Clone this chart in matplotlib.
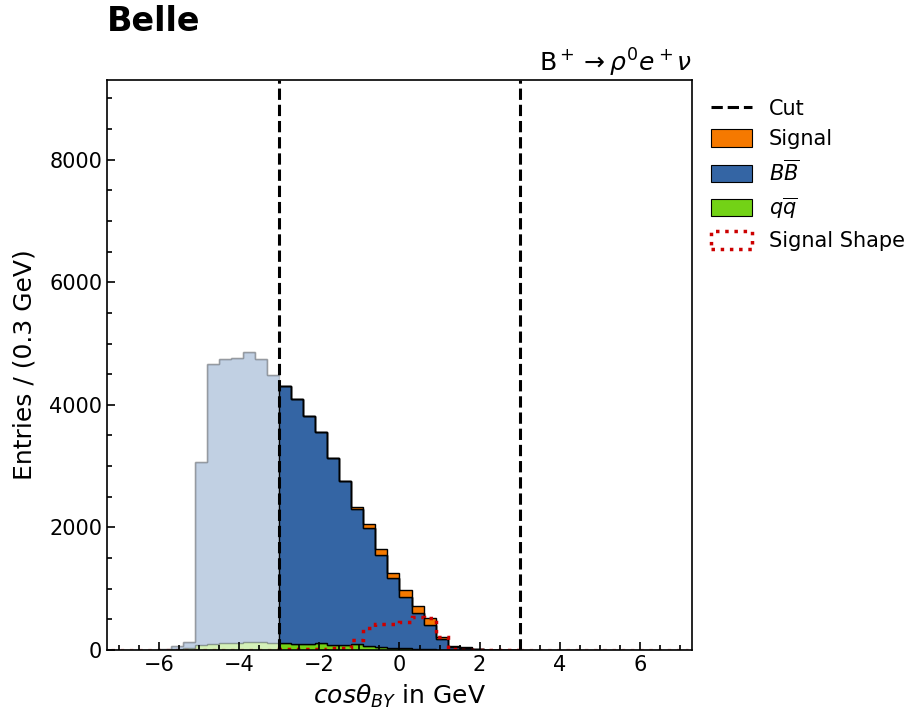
import numpy as np
import matplotlib
matplotlib.use("Agg")
import matplotlib.pyplot as plt
from matplotlib.patches import Patch
from matplotlib.ticker import MultipleLocator

# bins of width 0.3, first bin starts at -6.0
bin_start = -6.0
bin_width = 0.3

# q qbar continuum
qq = [2, 10, 25, 80, 100, 115, 120, 135, 125, 120,
      110, 100, 105, 110, 75, 85, 90, 70, 55, 40, 28, 20, 10, 5, 3, 1, 0, 0]
# BB + qq (top of blue stack)
bb_top = [10, 60, 125, 3060, 4670, 4745, 4760, 4865, 4745, 4490,
          4310, 4095, 3820, 3565, 3130, 2760, 2308, 1987, 1551, 1170, 871, 599, 403, 174, 55, 40, 10, 3]
# signal contribution (stacked on top)
signal = [0, 2, 3, 2, 0, 0, 0, 0, 0, 0,
          0, 0, 0, 0, 0, 3, 33, 70, 93, 93, 110, 120, 114, 44, 10, 3, 0, 0]
# scaled signal shape
signal_shape = [2, 5, 8, 5, 3, 3, 3, 3, 3, 3,
                15, 10, 15, 20, 25, 30, 163, 354, 419, 425, 463, 544, 517, 218, 10, 5, 3, 2]

cuts = [-3.0, 3.0]

c_sig = "#f57900"
c_bb = "#3465a4"
c_qq = "#73d216"
c_shape = "#cc0000"

# pad to full range -7.2 .. 7.2
n_left = 4
n_right = 48 - n_left - len(qq)
pad = lambda a: np.concatenate([np.zeros(n_left), np.array(a, float), np.zeros(n_right)])
qq_v = pad(qq)
bb_v = pad(bb_top) - qq_v
sig_v = pad(signal)
shape_v = pad(signal_shape)
edges = np.round(bin_start - n_left * bin_width + bin_width * np.arange(len(qq_v) + 1), 2)

fig = plt.figure(figsize=(9.1, 7.2), dpi=100)
ax = fig.add_axes([0.1176, 0.0972, 0.6428, 0.7917])

i_lo = int(np.argmin(np.abs(edges - cuts[0])))
i_hi = int(np.argmin(np.abs(edges - cuts[1])))
segments = [(0, i_lo, False), (i_lo, i_hi, True), (i_hi, len(qq_v), False)]

for a, b, inside in segments:
    e = edges[a:b + 1]
    fa = 1.0 if inside else 0.3
    ec = "black" if inside else (0, 0, 0, 0.18)
    top = qq_v[a:b] + bb_v[a:b]
    ax.stairs(qq_v[a:b], e, baseline=0, fill=True, facecolor=matplotlib.colors.to_rgba(c_qq, fa),
              edgecolor=ec, linewidth=1)
    ax.stairs(top, e, baseline=qq_v[a:b], fill=True, facecolor=matplotlib.colors.to_rgba(c_bb, fa),
              edgecolor=ec, linewidth=1)
    ax.stairs(top + sig_v[a:b], e, baseline=top, fill=True,
              facecolor=matplotlib.colors.to_rgba(c_sig, fa), edgecolor=ec, linewidth=1)
    ax.stairs(shape_v[a:b], e, fill=False, edgecolor=matplotlib.colors.to_rgba(c_shape, fa),
              linestyle=":", linewidth=2.5)

for c in cuts:
    ax.axvline(c, color="black", linestyle="--", linewidth=2.2)

ax.set_xlim(-7.3, 7.3)
ax.set_ylim(0, 9300)
ax.xaxis.set_major_locator(MultipleLocator(2))
ax.xaxis.set_minor_locator(MultipleLocator(0.5))
ax.yaxis.set_major_locator(MultipleLocator(2000))
ax.yaxis.set_minor_locator(MultipleLocator(500))
ax.tick_params(which="both", direction="in", top=False, right=False, labelsize=15, width=1.2)
ax.tick_params(which="major", length=6)
ax.tick_params(which="minor", length=3.5)
for s in ax.spines.values():
    s.set_linewidth(1.2)

ax.set_xlabel(r"$cos\theta_{BY}$ in GeV", fontsize=18, labelpad=6)
ax.set_ylabel("Entries / (0.3 GeV)", fontsize=18, labelpad=9)
ax.set_title(r"$\mathrm{B}^+\rightarrow\rho^0 e^+\nu$", loc="right", fontsize=18, pad=6)
fig.text(0.117, 0.993, "Belle", fontsize=24, fontweight="bold", va="top", ha="left")

handles = [
    plt.Line2D([], [], color="black", linestyle="--", linewidth=2.2),
    Patch(facecolor=c_sig, edgecolor="black", linewidth=0.8),
    Patch(facecolor=c_bb, edgecolor="black", linewidth=0.8),
    Patch(facecolor=c_qq, edgecolor="black", linewidth=0.8),
    Patch(facecolor="none", edgecolor=c_shape, linestyle=":", linewidth=2.5),
]
labels = ["Cut", "Signal", r"$B\overline{B}$", r"$q\overline{q}$", "Signal Shape"]
ax.legend(handles, labels, loc="upper left", bbox_to_anchor=(1.0, 1.0),
          frameon=False, fontsize=15, handlelength=2.0, handleheight=0.9)

fig.savefig("out.png", dpi=100)
